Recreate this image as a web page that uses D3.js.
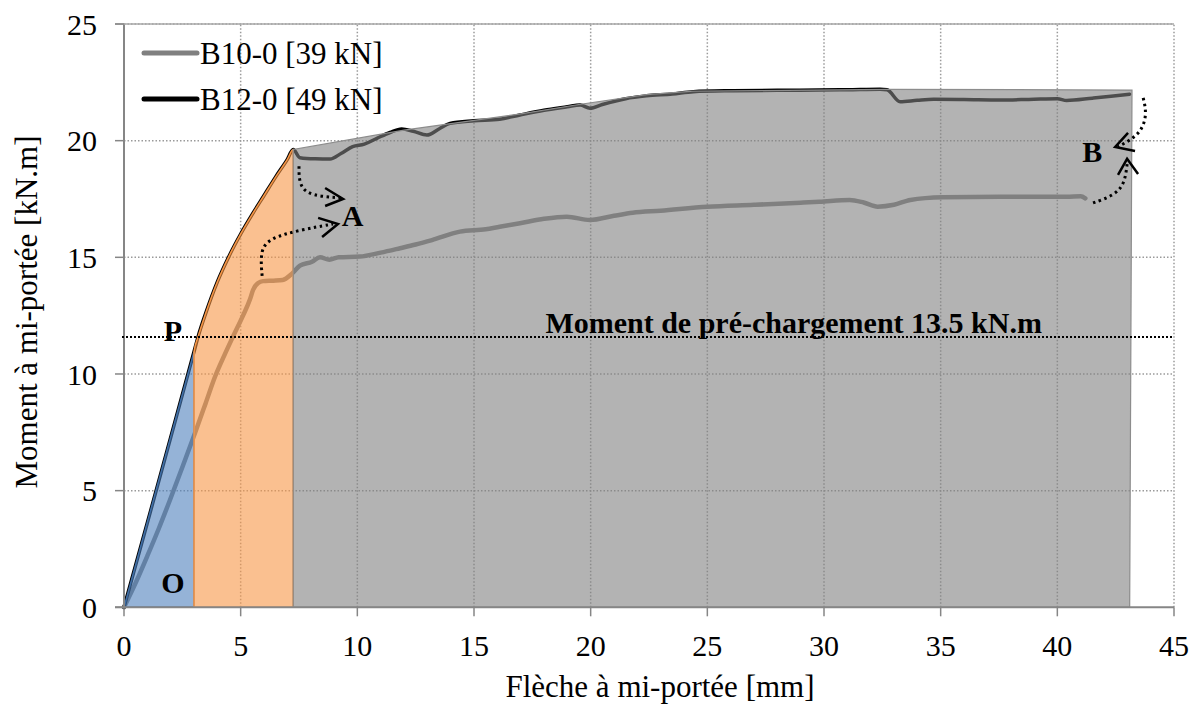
<!DOCTYPE html>
<html>
<head>
<meta charset="utf-8">
<script src="https://cdn.jsdelivr.net/npm/d3@7"></script>
<style>
  html, body { margin: 0; padding: 0; background: #fff; }
  svg { display: block; font-family: "Liberation Serif", "Times New Roman", serif; }
</style>
</head>
<body>
<svg id="chart" width="1198" height="705"></svg>
<script>
// ---------- data ----------
const xTicks = [0, 5, 10, 15, 20, 25, 30, 35, 40, 45];
const yTicks = [0, 5, 10, 15, 20, 25];

const seriesNames = ["B10-0 [39 kN]", "B12-0 [49 kN]"];

// B10-0 : [deflection mm, moment kN.m]
const b10 = [
  [0,0],[0.5,1.05],[1,2.2],[1.5,3.4],[1.97,4.6],[2.5,6.0],[3.04,7.46],[3.5,8.75],[3.9,9.88],
  [4.3,10.8],[4.67,11.6],[5.1,12.5],[5.4,13.2],[5.53,13.6],[5.75,13.9],[5.96,13.98],[6.4,14.0],
  [6.8,14.03],[7.2,14.3],[7.54,14.64],[8.06,14.81],[8.4,15.0],[8.8,14.9],[9.2,15.0],[10.1,15.03],
  [11,15.2],[11.83,15.39],[12.5,15.55],[13.2,15.74],[14.4,16.1],[15.5,16.2],[16.1,16.31],
  [16.97,16.46],[18,16.65],[18.98,16.74],[19.97,16.6],[21,16.78],[21.8,16.91],[23,17.0],
  [25,17.17],[27,17.25],[29,17.34],[29.8,17.38],[31.1,17.46],[31.7,17.35],[32.3,17.17],
  [33,17.25],[33.7,17.46],[35.1,17.57],[37.55,17.6],[40.4,17.6],[41.0,17.62],[41.2,17.53]
];

// B12-0
const b12 = [
  [0,0],[1,3.62],[2,7.28],[3,10.95],[3.17,11.58],[3.5,12.6],[4.0,13.95],[4.5,15.05],[5.0,16.0],
  [5.5,16.85],[6.0,17.65],[6.5,18.45],[7.0,19.2],[7.25,19.62],[7.54,19.27],[8.2,19.22],[8.83,19.21],
  [9.3,19.45],[9.8,19.74],[10.3,19.85],[10.84,20.1],[11.4,20.35],[11.9,20.5],[12.4,20.4],
  [12.98,20.24],[13.5,20.5],[13.97,20.74],[15,20.85],[16.1,20.92],[16.97,21.1],[18,21.3],
  [19.0,21.45],[19.55,21.53],[19.97,21.39],[20.5,21.55],[21.5,21.8],[22.4,21.92],[23.5,22.0],
  [24.4,22.1],[26.1,22.14],[28,22.16],[29.8,22.17],[31,22.18],[32.4,22.2],[32.7,22.18],
  [33.26,21.67],[34,21.73],[34.7,21.77],[36,21.76],[37.55,21.74],[39,21.78],[40.0,21.8],
  [40.4,21.72],[41.5,21.82],[42.3,21.9],[43.1,21.99]
];

// shaded zones
const zoneBlue = [[0,0],[3.0,10.95],[3.0,0]];
const zoneOrangeX = [3.0, 7.25];
const zoneGray = [
  [7.25,0],[7.25,19.62],[12,20.45],[17,21.15],[19.5,21.55],[22.4,21.97],[24.4,22.12],
  [32.7,22.2],[43.2,22.17],[43.1,0]
];

const preloadY = 11.58;
const preloadLabel = "Moment de pré-chargement 13.5 kN.m";

// annotation points (labels)
const pointLabels = [
  {t:"P", x:2.1, y:11.4},
  {t:"O", x:2.1, y:0.6},
  {t:"A", x:9.8, y:16.35},
  {t:"B", x:41.5, y:19.1}
];

// dotted curved arrows (data coords)
const arrowPaths = [
  [[7.5,18.9],[7.5,18.2],[7.8,17.75],[8.5,17.6],[9.3,17.55]],
  [[5.92,14.2],[5.83,15.3],[6.26,15.83],[7.54,16.17],[8.96,16.43]],
  [[43.68,21.83],[43.85,21.1],[43.55,20.25],[42.6,19.74]],
  [[41.53,17.33],[42.48,17.67],[42.9,18.19],[43.0,19.09]]
];
const arrowHeads = [
  [[8.62,17.97],[9.39,17.5],[8.62,17.2]],
  [[8.32,16.69],[9.17,16.43],[8.49,15.87]],
  [[43.03,20.33],[42.48,19.73],[43.33,19.56]],
  [[42.6,18.53],[42.99,19.22],[43.46,18.57]]
];

// ---------- drawing ----------
const svg = d3.select("#chart");
const x = d3.scaleLinear().domain([0,45]).range([124,1174]);
const y = d3.scaleLinear().domain([0,25]).range([607.3,24]);

const gridColor = "#9a9a9a";
const grid = svg.append("g");
grid.selectAll("line.v").data(xTicks.filter(d=>d>0)).enter().append("line")
  .attr("x1",d=>x(d)).attr("x2",d=>x(d)).attr("y1",y(0)).attr("y2",y(25))
  .attr("stroke",gridColor).attr("stroke-width",1.5).attr("stroke-dasharray","1.5,2");
grid.selectAll("line.h").data(yTicks.filter(d=>d>0)).enter().append("line")
  .attr("x1",x(0)).attr("x2",x(45)).attr("y1",d=>y(d)).attr("y2",d=>y(d))
  .attr("stroke",gridColor).attr("stroke-width",1.5).attr("stroke-dasharray","1.5,2");

const line = d3.line().x(d=>x(d[0])).y(d=>y(d[1])).curve(d3.curveMonotoneX);

// series lines
svg.append("path").datum(b10).attr("d",line).attr("fill","none")
  .attr("stroke","#808080").attr("stroke-width",4.5).attr("stroke-linejoin","round").attr("stroke-linecap","round");
svg.append("path").datum(b12).attr("d",line).attr("fill","none")
  .attr("stroke","#000").attr("stroke-width",3.5).attr("stroke-linejoin","round").attr("stroke-linecap","round");

// zones (semi transparent on top)
const poly = d3.line().x(d=>x(d[0])).y(d=>y(d[1]));
svg.append("path").datum(zoneBlue).attr("d",d=>poly(d)+"Z")
  .attr("fill","#4F81BD").attr("fill-opacity",0.6).attr("stroke","#3f6fa8").attr("stroke-width",1.5);

const orangeTop = b12.filter(d=>d[0]>=zoneOrangeX[0] && d[0]<=zoneOrangeX[1]);
const zoneOrange = [[zoneOrangeX[0],0]].concat(orangeTop).concat([[zoneOrangeX[1],0]]);
const orangeLine = d3.line().x(d=>x(d[0])).y(d=>y(d[1])).curve(d3.curveMonotoneX);
svg.append("path").datum(zoneOrange).attr("d",d=>orangeLine(d)+"Z")
  .attr("fill","#F79646").attr("fill-opacity",0.6).attr("stroke","#F79646").attr("stroke-width",1.5);

svg.append("path").datum(zoneGray).attr("d",d=>poly(d)+"Z")
  .attr("fill","#808080").attr("fill-opacity",0.6).attr("stroke","#8c8c8c").attr("stroke-width",1.2);

// axes lines
const axisColor = "#868686";
svg.append("line").attr("x1",x(0)).attr("x2",x(0)).attr("y1",y(0)).attr("y2",y(25))
  .attr("stroke",axisColor).attr("stroke-width",2);
svg.append("line").attr("x1",x(0)-9).attr("x2",x(45)).attr("y1",y(0)).attr("y2",y(0))
  .attr("stroke",axisColor).attr("stroke-width",2);
svg.append("line").attr("x1",x(0)-9).attr("x2",x(45)).attr("y1",y(25)).attr("y2",y(25))
  .attr("stroke","#a8a8a8").attr("stroke-width",1.5);

// ticks
svg.selectAll("line.yt").data(yTicks).enter().append("line")
  .attr("x1",x(0)-9).attr("x2",x(0)).attr("y1",d=>y(d)).attr("y2",d=>y(d))
  .attr("stroke",axisColor).attr("stroke-width",1.5);
svg.selectAll("line.xt").data(xTicks).enter().append("line")
  .attr("x1",d=>x(d)).attr("x2",d=>x(d)).attr("y1",y(0)).attr("y2",y(0)+9)
  .attr("stroke",axisColor).attr("stroke-width",1.5);

// tick labels
svg.selectAll("text.yl").data(yTicks).enter().append("text")
  .attr("x",97).attr("y",d=>y(d)).attr("dy","0.36em").attr("text-anchor","end")
  .attr("font-size",30).attr("fill","#000").text(d=>d);
svg.selectAll("text.xl").data(xTicks).enter().append("text")
  .attr("x",d=>x(d)).attr("y",656).attr("text-anchor","middle")
  .attr("font-size",30).attr("fill","#000").text(d=>d);

// axis titles
svg.append("text").attr("x",660).attr("y",697).attr("text-anchor","middle")
  .attr("font-size",31).text("Flèche à mi-portée [mm]");
svg.append("text").attr("transform","translate(37,312) rotate(-90)").attr("text-anchor","middle")
  .attr("font-size",31).text("Moment à mi-portée [kN.m]");

// preload line + label
svg.append("line").attr("x1",122).attr("x2",1172).attr("y1",y(preloadY)).attr("y2",y(preloadY))
  .attr("stroke","#000").attr("stroke-width",2).attr("stroke-dasharray","2,2");
svg.append("text").attr("x",x(28.7)).attr("y",y(preloadY)-4).attr("text-anchor","middle")
  .attr("font-size",30).attr("font-weight","bold").text(preloadLabel);

// point labels
svg.selectAll("text.pl").data(pointLabels).enter().append("text")
  .attr("x",d=>x(d.x)).attr("y",d=>y(d.y)).attr("text-anchor","middle")
  .attr("font-size",30).attr("font-weight","bold").text(d=>d.t);

// arrows
const curve = d3.line().x(d=>x(d[0])).y(d=>y(d[1])).curve(d3.curveBasis);
svg.selectAll("path.ap").data(arrowPaths).enter().append("path")
  .attr("d",curve).attr("fill","none").attr("stroke","#000").attr("stroke-width",3)
  .attr("stroke-dasharray","2.5,3.5");
svg.selectAll("path.ah").data(arrowHeads).enter().append("path")
  .attr("d",poly).attr("fill","none").attr("stroke","#000").attr("stroke-width",2.5)
  .attr("stroke-linejoin","miter");

// legend
const legend = svg.append("g");
const legColors = ["#808080","#000"];
const legY = [53, 99];
seriesNames.forEach((n,i)=>{
  legend.append("line").attr("x1",144).attr("x2",197).attr("y1",legY[i]).attr("y2",legY[i])
    .attr("stroke",legColors[i]).attr("stroke-width",5).attr("stroke-linecap","round");
  legend.append("text").attr("x",200).attr("y",legY[i]+11).attr("font-size",31).text(n);
});
</script>
</body>
</html>
